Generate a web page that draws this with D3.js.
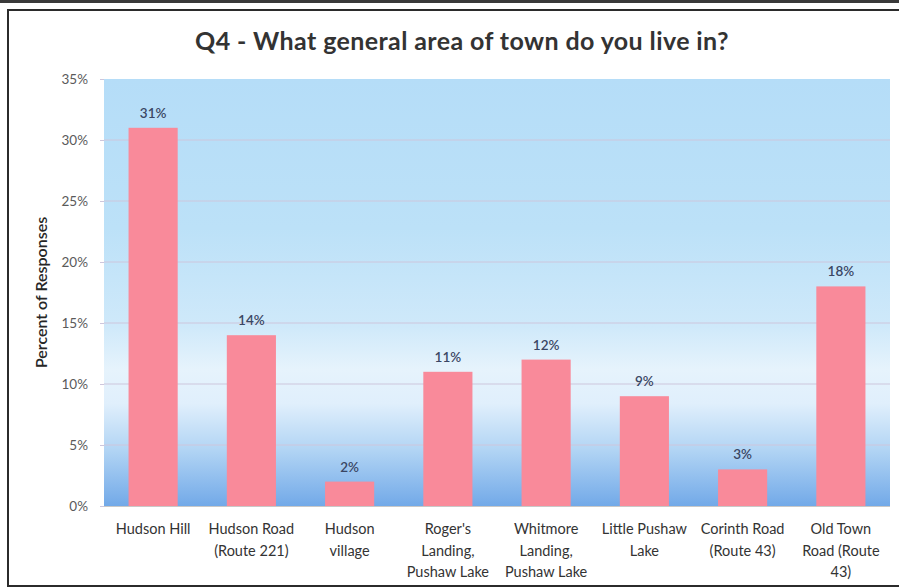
<!DOCTYPE html>
<html>
<head>
<meta charset="utf-8">
<script src="https://cdn.jsdelivr.net/npm/d3@7/dist/d3.min.js"></script>
<style>
  html, body { margin: 0; padding: 0; background: #fff; }
  svg { display: block; }
  text { font-family: Lato, "Open Sans", "DejaVu Sans", sans-serif; }
</style>
</head>
<body>
<svg id="chart" width="899" height="588"></svg>
<script>
// Survey results: share of respondents by area of town
const categories = [
  ["Hudson Hill"],
  ["Hudson Road", "(Route 221)"],
  ["Hudson", "village"],
  ["Roger's", "Landing,", "Pushaw Lake"],
  ["Whitmore", "Landing,", "Pushaw Lake"],
  ["Little Pushaw", "Lake"],
  ["Corinth Road", "(Route 43)"],
  ["Old Town", "Road (Route", "43)"]
];
const values = [0.31, 0.14, 0.02, 0.11, 0.12, 0.09, 0.03, 0.18];
const yTicks = [0, 0.05, 0.10, 0.15, 0.20, 0.25, 0.30, 0.35];
const titleText = "Q4 - What general area of town do you live in?";
const yTitle = "Percent of Responses";

const svg = d3.select("#chart");
const W = 899, H = 588;
const plot = { left: 104, right: 890, top: 79, bottom: 506 };

const keys = categories.map(c => c.join(" "));
const x = d3.scaleBand().domain(keys).range([plot.left, plot.right])
  .paddingInner(0.5).paddingOuter(0.25);
const y = d3.scaleLinear().domain([0, 0.35]).range([plot.bottom, plot.top]);

// outer frame
svg.append("rect").attr("x", 0).attr("y", 0).attr("width", W).attr("height", 3).attr("fill", "#3a3a3a");
svg.append("rect").attr("x", 8).attr("y", 10).attr("width", W).attr("height", 576)
  .attr("fill", "#fff").attr("stroke", "#2b2b2b").attr("stroke-width", 2);

// plot area gradient
const defs = svg.append("defs");
const grad = defs.append("linearGradient").attr("id", "plotBg")
  .attr("x1", 0).attr("y1", 0).attr("x2", 0).attr("y2", 1);
[
  [0, "#b5ddf8"], [0.35, "#bce1f8"], [0.58, "#cfe9fa"], [0.68, "#e6f3fc"],
  [0.76, "#e0effc"], [0.87, "#b1d4f4"], [1, "#72a9e8"]
].forEach(([o, c]) => grad.append("stop").attr("offset", o).attr("stop-color", c));

svg.append("rect")
  .attr("x", plot.left).attr("y", plot.top)
  .attr("width", plot.right - plot.left).attr("height", plot.bottom - plot.top)
  .attr("fill", "url(#plotBg)");

// gridlines
svg.append("g").selectAll("line").data(yTicks.filter(t => t > 0 && t < 0.35)).join("line")
  .attr("x1", plot.left).attr("x2", plot.right)
  .attr("y1", d => y(d)).attr("y2", d => y(d))
  .attr("stroke", "#cdc6dc").attr("stroke-width", 1);

// y axis
const yAxis = d3.axisLeft(y).tickValues(yTicks).tickFormat(d3.format(".0%")).tickSize(4).tickPadding(12);
const gy = svg.append("g").attr("transform", `translate(${plot.left},0)`).call(yAxis);
gy.select(".domain").remove();
gy.selectAll(".tick line").attr("stroke", "#cdc6dc");
gy.selectAll(".tick text").attr("fill", "#5a5a5a").style("font-size", "13.5px")
  .style("font-family", "Lato, sans-serif");

// x axis baseline
svg.append("line").attr("x1", plot.left).attr("x2", plot.right)
  .attr("y1", plot.bottom + 0.5).attr("y2", plot.bottom + 0.5)
  .attr("stroke", "#c8c8c8").attr("stroke-width", 1);

// bars
svg.append("g").selectAll("rect").data(values).join("rect")
  .attr("x", (d, i) => x(keys[i]))
  .attr("y", d => y(d))
  .attr("width", x.bandwidth())
  .attr("height", d => y(0) - y(d))
  .attr("fill", "#f98a9a");

// value labels
svg.append("g").selectAll("text").data(values).join("text")
  .attr("x", (d, i) => x(keys[i]) + x.bandwidth() / 2)
  .attr("y", d => y(d) - 10)
  .attr("text-anchor", "middle")
  .attr("fill", "#3a4663")
  .style("font-size", "13.5px").style("font-weight", "600")
  .text(d => d3.format(".0%")(d));

// category labels
const cl = svg.append("g").selectAll("text").data(categories).join("text")
  .attr("text-anchor", "middle")
  .attr("fill", "#333")
  .style("font-size", "14.5px");
cl.each(function (lines, i) {
  const t = d3.select(this);
  const cx = x(keys[i]) + x.bandwidth() / 2;
  lines.forEach((ln, j) => {
    t.append("tspan").attr("x", cx).attr("y", 534 + j * 21.5).text(ln);
  });
});

// title
svg.append("text").attr("x", 462).attr("y", 50).attr("text-anchor", "middle")
  .attr("fill", "#333").style("font-size", "25px").style("font-weight", "700")
  .style("letter-spacing", "0.4px")
  .text(titleText);

// y axis title
svg.append("text")
  .attr("transform", `translate(47,${(217 + 368) / 2}) rotate(-90)`)
  .attr("text-anchor", "middle").attr("fill", "#262626")
  .style("font-size", "16px").style("font-weight", "600")
  .text(yTitle);
</script>
</body>
</html>
